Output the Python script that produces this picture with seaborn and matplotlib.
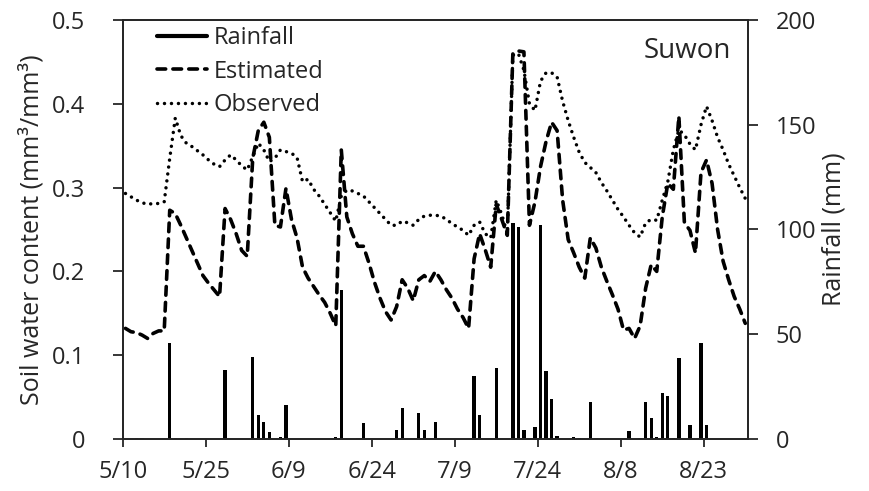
import numpy as np
import pandas as pd
import seaborn as sns
import matplotlib
matplotlib.use("Agg")
import matplotlib.pyplot as plt
from matplotlib.lines import Line2D

# ---------------- data ----------------
days = np.arange(113)  # day 0 = 5/10
tick_days = [0, 15, 30, 45, 60, 75, 90, 105]
tick_labels = ["5/10", "5/25", "6/9", "6/24", "7/9", "7/24", "8/8", "8/23"]

estimated = [
    0.132, 0.128, 0.127, 0.124, 0.120, 0.126, 0.129, 0.129, 0.273, 0.269,
    0.255, 0.240, 0.225, 0.210, 0.195, 0.186, 0.178, 0.170, 0.275, 0.262,
    0.245, 0.225, 0.218, 0.335, 0.368, 0.378, 0.360, 0.255, 0.253, 0.299,
    0.262, 0.240, 0.205, 0.192, 0.182, 0.172, 0.163, 0.150, 0.135, 0.345,
    0.265, 0.245, 0.230, 0.230, 0.210, 0.187, 0.168, 0.152, 0.142, 0.158,
    0.190, 0.180, 0.165, 0.190, 0.195, 0.188, 0.200, 0.190, 0.178, 0.168,
    0.155, 0.145, 0.132, 0.215, 0.245, 0.226, 0.205, 0.280, 0.262, 0.243,
    0.460, 0.463, 0.462, 0.255, 0.283, 0.325, 0.355, 0.378, 0.368, 0.285,
    0.238, 0.222, 0.205, 0.192, 0.240, 0.228, 0.205, 0.188, 0.172, 0.155,
    0.130, 0.132, 0.120, 0.135, 0.180, 0.208, 0.200, 0.265, 0.305, 0.298,
    0.385, 0.258, 0.249, 0.222, 0.318, 0.333, 0.305, 0.250, 0.212, 0.190,
    0.170, 0.155, 0.138,
]

observed = [
    0.293, 0.289, 0.285, 0.282, 0.280, 0.281, 0.281, 0.283, 0.335, 0.383,
    0.362, 0.353, 0.349, 0.344, 0.339, 0.333, 0.328, 0.325, 0.333, 0.339,
    0.333, 0.326, 0.321, 0.337, 0.353, 0.345, 0.331, 0.335, 0.345, 0.343,
    0.341, 0.336, 0.307, 0.310, 0.298, 0.290, 0.280, 0.270, 0.260, 0.290,
    0.297, 0.296, 0.293, 0.290, 0.283, 0.276, 0.269, 0.262, 0.255, 0.255,
    0.260, 0.258, 0.255, 0.262, 0.266, 0.267, 0.267, 0.266, 0.262, 0.257,
    0.253, 0.249, 0.243, 0.255, 0.259, 0.245, 0.240, 0.285, 0.268, 0.245,
    0.458, 0.460, 0.440, 0.400, 0.392, 0.427, 0.437, 0.437, 0.432, 0.403,
    0.380, 0.360, 0.342, 0.330, 0.324, 0.318, 0.306, 0.296, 0.285, 0.274,
    0.265, 0.255, 0.246, 0.241, 0.258, 0.262, 0.261, 0.285, 0.307, 0.345,
    0.369, 0.363, 0.352, 0.345, 0.375, 0.397, 0.380, 0.360, 0.345, 0.328,
    0.314, 0.300, 0.287,
]

rain_days = [2, 3, 8, 9, 11, 18, 23, 24, 25, 26, 28, 29, 38, 39, 42, 43,
             49, 50, 53, 54, 56, 63, 64, 67, 70, 71, 72, 74, 75, 76, 77, 78,
             81, 82, 84, 85, 91, 93, 94, 95, 96, 97, 98, 99, 100, 102, 104, 105]
rain_mm = [0.5, 0.5, 46, 0.5, 0.5, 33, 39, 11.5, 8.3, 3.5, 1, 16.2, 1, 71, 0.5, 7.6,
           4.5, 14.6, 12.6, 4.3, 8.3, 30, 11.5, 34, 103, 101, 4.3, 5.8, 102, 32.5, 19, 1.5,
           1, 0.5, 17.6, 0.5, 3.9, 0.5, 17.8, 9.9, 1, 21.8, 20.6, 0.5, 38.5, 6.7, 45.7, 6.7]

swc_ticks = [0, 0.1, 0.2, 0.3, 0.4, 0.5]
swc_tick_labels = ["0", "0.1", "0.2", "0.3", "0.4", "0.5"]
rain_ticks = [0, 50, 100, 150, 200]

rain = np.zeros(len(days))
rain[rain_days] = rain_mm
df = pd.DataFrame({"day": days, "Estimated": estimated, "Observed": observed, "Rainfall": rain})

# ---------------- style ----------------
sns.set_theme(style="ticks")
plt.rcParams["font.family"] = ["Open Sans", "DejaVu Sans"]
INK = "#262626"
FS = 17

fig = plt.figure(figsize=(8.69, 4.91), dpi=100)
ax = fig.add_axes([0.1412, 0.1059, 0.7196, 0.8534])
ax2 = ax.twinx()

ax2.bar(df["day"], df["Rainfall"], width=0.6, color="black", linewidth=0)

est_style = (0, (2.4, 2.0))
obs_style = (0, (0.01, 2.0))
sns.lineplot(data=df, x="day", y="Estimated", ax=ax, color="black", lw=2.6,
             linestyle=est_style, dash_capstyle="round")
sns.lineplot(data=df, x="day", y="Observed", ax=ax, color="black", lw=2.5,
             linestyle=obs_style, dash_capstyle="round")

ax.set_zorder(ax2.get_zorder() + 1)
ax.patch.set_visible(False)

ax.set_xlim(-0.5, 112.5)
ax.set_ylim(0, 0.5)
ax2.set_ylim(0, 200)
ax.set_xticks([d - 0.5 for d in tick_days])
ax.set_xticklabels(tick_labels)
ax.set_yticks(swc_ticks)
ax.set_yticklabels(swc_tick_labels)
ax2.set_yticks(rain_ticks)

ax.set_xlabel("")
ax.set_ylabel("Soil water content (mm³/mm³)", fontsize=18, color=INK, labelpad=5)
ax2.set_ylabel("Rainfall (mm)", fontsize=18, color=INK, labelpad=4)

for a in (ax, ax2):
    for s in a.spines.values():
        s.set_visible(True)
        s.set_color(INK)
        s.set_linewidth(1.3)

ax.tick_params(axis="y", left=True, right=False, direction="out", length=7, width=1.3,
               pad=20, labelsize=FS, colors=INK)
ax.tick_params(axis="x", bottom=True, top=False, direction="out", length=6, width=1.3,
               pad=9, labelsize=FS, colors=INK)
ax2.tick_params(axis="y", right=True, left=False, direction="out", length=7, width=1.3,
                pad=13, labelsize=FS, colors=INK)

ax.text(0.972, 0.925, "Suwon", transform=ax.transAxes, ha="right", va="center",
        fontsize=20, color=INK)

handles = [
    Line2D([], [], color="black", lw=3.0),
    Line2D([], [], color="black", lw=2.6, linestyle=est_style, dash_capstyle="round"),
    Line2D([], [], color="black", lw=2.5, linestyle=obs_style, dash_capstyle="round"),
]
ax.legend(handles, ["Rainfall", "Estimated", "Observed"], loc="upper left",
          bbox_to_anchor=(0.055, 0.985), frameon=False, fontsize=FS,
          handlelength=2.1, handletextpad=0.3, labelspacing=0.4,
          borderpad=0, borderaxespad=0, labelcolor=INK)

fig.savefig("out.png", dpi=100)
